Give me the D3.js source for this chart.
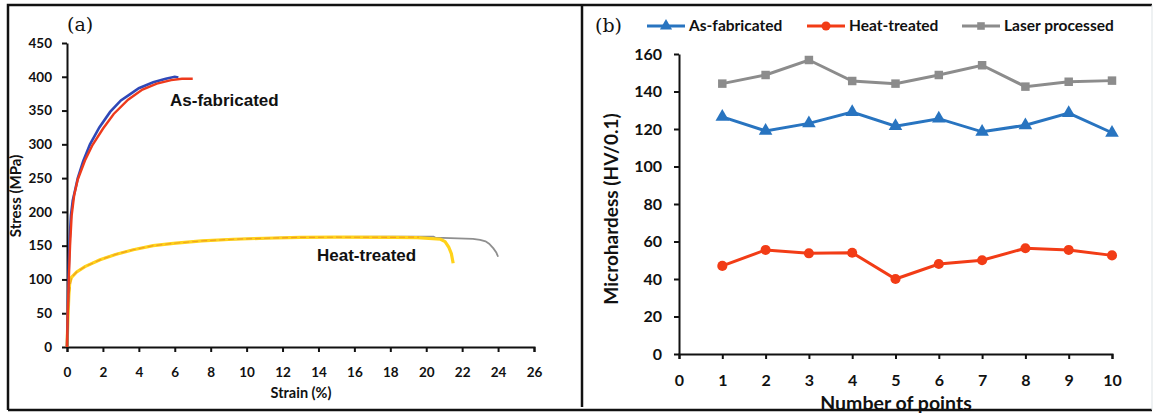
<!DOCTYPE html>
<html>
<head>
<meta charset="utf-8">
<script src="https://cdn.jsdelivr.net/npm/d3@7"></script>
<style>
  html, body { margin: 0; padding: 0; background: #fff; }
  svg { display: block; }
  .tick text { font-family: Lato, "Open Sans", sans-serif; font-weight: 700; fill: #111; }
  .domain, .tick line { stroke: #111; stroke-width: 2; }
</style>
</head>
<body>
<svg id="chart" width="1155" height="413"></svg>
<script>
// ---------- Panel (a): tensile stress–strain curves, [strain %, stress MPa] ----------
const strainTicks = [0, 2, 4, 6, 8, 10, 12, 14, 16, 18, 20, 22, 24, 26];
const stressTicks = [0, 50, 100, 150, 200, 250, 300, 350, 400, 450];

const asFabricatedA = [[0,0],[0.05,60],[0.1,120],[0.15,160],[0.22,195],[0.32,217],[0.45,232],[0.6,250],
  [0.9,275],[1.28,300],[1.8,325],[2.4,348],[3.0,365],[3.5,374],[4.0,383],[4.8,392],[5.5,397],[6.0,400],[6.2,399]];
const asFabricatedB = [[0,0],[0.04,50],[0.1,100],[0.17,150],[0.26,195],[0.4,225],[0.6,248],[1.0,276],
  [1.4,298],[2.0,323],[2.6,345],[3.4,366],[4.2,381],[5.0,390],[5.8,395],[6.4,397],[7.0,397]];
const heatTreatedA = [[0,0],[0.05,40],[0.1,75],[0.15,95],[0.25,103],[0.54,111],[1.0,119],[1.84,129],
  [2.7,137],[3.69,144],[4.8,150],[5.92,153.5],[7.5,157],[9.26,159.5],[11,161],[12.97,162.3],[15,162.5],
  [18.2,162.3],[19.5,162],[20.8,159.5],[21.05,156],[21.25,148],[21.4,138],[21.5,124]];
const heatTreatedB = [[0,0],[0.05,40],[0.1,75],[0.15,95],[0.25,103],[0.54,111],[1.0,119],[1.84,129],
  [2.7,137],[3.69,144],[4.8,150],[5.92,153.5],[7.5,157],[9.26,159.5],[11,161],[12.97,162.5],[15,163],
  [18.2,163.5],[20.4,163.5],[20.5,162],[22.6,160],[23.0,158.5],[23.3,156.5],[23.5,153],[23.74,146],
  [23.9,140],[24.0,133.6]];
const heatTreatedTrace = [[0,0],[0.1,75],[0.25,103],[0.54,111],[1.0,119],[1.84,129],[2.7,137],[3.69,144],
  [4.8,150],[5.92,153.5],[7.5,157],[9.26,159.5],[11,161],[12.97,162.3],[15,162.5],[18.2,162.4],[19.6,162.6]];

// ---------- Panel (b): microhardness at ten points ----------
const pointTicks = [0, 1, 2, 3, 4, 5, 6, 7, 8, 9, 10];
const hardnessTicks = [0, 20, 40, 60, 80, 100, 120, 140, 160];
const pointNumbers = [1, 2, 3, 4, 5, 6, 7, 8, 9, 10];
const hvAsFabricated = [126.5, 119, 123, 129, 121.5, 125.5, 118.5, 122, 128.5, 118];
const hvHeatTreated = [47, 55.5, 53.7, 54, 40, 48, 50, 56.4, 55.5, 52.6];
const hvLaserProcessed = [144.2, 148.8, 156.8, 145.6, 144.2, 148.8, 154, 142.6, 145.2, 145.8];
const seriesNames = ["As-fabricated", "Heat-treated", "Laser processed"];

const svg = d3.select("#chart");

// ---------- outer frames ----------
svg.append("path")
  .attr("d", "M8,410 V5 H1152")
  .attr("fill", "none").attr("stroke", "#111").attr("stroke-width", 2.5);
svg.append("line").attr("x1", 8).attr("x2", 1152).attr("y1", 410).attr("y2", 410)
  .attr("stroke", "#111").attr("stroke-width", 2.5);
svg.append("line").attr("x1", 582).attr("x2", 582).attr("y1", 5).attr("y2", 407)
  .attr("stroke", "#111").attr("stroke-width", 2.5);
svg.append("line").attr("x1", 1152).attr("x2", 1152).attr("y1", 5).attr("y2", 410)
  .attr("stroke", "#dde3e6").attr("stroke-width", 1);

// ================= Panel (a) =================
const xA = d3.scaleLinear().domain([0, 26]).range([67, 534]);
const yA = d3.scaleLinear().domain([0, 450]).range([347, 43]);

const gA = svg.append("g");
gA.append("g").attr("transform", `translate(0,${yA(0)})`)
  .call(d3.axisBottom(xA).tickValues(strainTicks).tickSize(5).tickPadding(15).tickSizeOuter(5))
  .call(g => g.selectAll(".tick text").style("font-size", "13.5px"));
gA.append("g").attr("transform", `translate(${xA(0)},0)`)
  .call(d3.axisLeft(yA).tickValues(stressTicks).tickSize(5).tickPadding(10).tickSizeOuter(0))
  .call(g => g.selectAll(".tick text").style("font-size", "13.5px"));

const lineA = d3.line().x(d => xA(d[0])).y(d => yA(d[1]));

gA.append("path").datum(heatTreatedB).attr("d", lineA)
  .attr("fill", "none").attr("stroke", "#8f8f8f").attr("stroke-width", 1.8);
gA.append("path").datum(heatTreatedA).attr("d", lineA)
  .attr("fill", "none").attr("stroke", "#ffd21a").attr("stroke-width", 3.2);
gA.append("path").datum(heatTreatedTrace).attr("d", lineA)
  .attr("fill", "none").attr("stroke", "#f0a020").attr("stroke-width", 1.2)
  .attr("stroke-dasharray", "6,3");
gA.append("path").datum(asFabricatedA).attr("d", lineA)
  .attr("fill", "none").attr("stroke", "#2f48b8").attr("stroke-width", 2.6);
gA.append("path").datum(asFabricatedB).attr("d", lineA)
  .attr("fill", "none").attr("stroke", "#ee3a1c").attr("stroke-width", 2.4);

gA.append("text").attr("x", 170).attr("y", 106)
  .attr("font-family", "Liberation Sans, Arial, sans-serif").attr("font-weight", 700)
  .attr("font-size", 17).attr("fill", "#111").text("As-fabricated");
gA.append("text").attr("x", 317).attr("y", 261)
  .attr("font-family", "Liberation Sans, Arial, sans-serif").attr("font-weight", 700)
  .attr("font-size", 17).attr("fill", "#111").text("Heat-treated");
gA.append("text").attr("x", 301).attr("y", 398).attr("text-anchor", "middle")
  .attr("font-family", "Lato, sans-serif").attr("font-weight", 700)
  .attr("font-size", 14.5).attr("fill", "#111").text("Strain (%)");
gA.append("text").attr("transform", "translate(21,196) rotate(-90)").attr("text-anchor", "middle")
  .attr("font-family", "Lato, sans-serif").attr("font-weight", 700)
  .attr("font-size", 15).attr("fill", "#111").text("Stress (MPa)");
gA.append("text").attr("x", 67).attr("y", 31)
  .attr("font-family", "DejaVu Serif, Liberation Serif, serif")
  .attr("font-size", 19).attr("fill", "#111").text("(a)");

// ================= Panel (b) =================
const xB = d3.scaleLinear().domain([0, 10]).range([679, 1112]);
const yB = d3.scaleLinear().domain([0, 160]).range([354, 54]);

const gB = svg.append("g");
gB.append("g").attr("transform", `translate(0,${yB(0)})`)
  .call(d3.axisBottom(xB).tickValues(pointTicks).tickSize(5).tickPadding(16).tickSizeOuter(5))
  .call(g => g.selectAll(".tick text").style("font-size", "16px"));
gB.append("g").attr("transform", `translate(${xB(0)},0)`)
  .call(d3.axisLeft(yB).tickValues(hardnessTicks).tickSize(5).tickPadding(12).tickSizeOuter(0))
  .call(g => g.selectAll(".tick text").style("font-size", "16px"));

const colors = { "As-fabricated": "#2874c0", "Heat-treated": "#f23c16", "Laser processed": "#8c8c8c" };
const seriesData = [
  { name: seriesNames[0], values: hvAsFabricated, marker: d3.symbolTriangle, size: 80 },
  { name: seriesNames[1], values: hvHeatTreated, marker: d3.symbolCircle, size: 80 },
  { name: seriesNames[2], values: hvLaserProcessed, marker: d3.symbolSquare, size: 72 }
];
const lineB = d3.line().x((d, i) => xB(pointNumbers[i])).y(d => yB(d));

seriesData.forEach(s => {
  gB.append("path").datum(s.values).attr("d", lineB)
    .attr("fill", "none").attr("stroke", colors[s.name]).attr("stroke-width", 3);
  gB.selectAll(null).data(s.values).enter().append("path")
    .attr("transform", (d, i) => `translate(${xB(pointNumbers[i])},${yB(d)})`)
    .attr("d", d3.symbol(s.marker, s.size))
    .attr("fill", colors[s.name]);
});

// legend
const legendX = [647, 807, 962];
const legend = gB.selectAll(".legend").data(seriesData).enter().append("g")
  .attr("transform", (d, i) => `translate(${legendX[i]},26)`);
legend.append("line").attr("x1", 0).attr("x2", 38)
  .attr("stroke", d => colors[d.name]).attr("stroke-width", 3);
legend.append("path").attr("transform", "translate(19,0)")
  .attr("d", d => d3.symbol(d.marker, d.size * 0.8)()).attr("fill", d => colors[d.name]);
legend.append("text").attr("x", 42).attr("y", 5)
  .attr("font-family", "Lato, sans-serif").attr("font-weight", 700)
  .attr("font-size", 15.5).attr("fill", "#111").text(d => d.name);

gB.append("text").attr("x", 595).attr("y", 32)
  .attr("font-family", "DejaVu Serif, Liberation Serif, serif")
  .attr("font-size", 19).attr("fill", "#111").text("(b)");
gB.append("text").attr("x", 896).attr("y", 410).attr("text-anchor", "middle")
  .attr("font-family", "Lato, sans-serif").attr("font-weight", 700)
  .attr("font-size", 19.5).attr("fill", "#111").text("Number of points");
gB.append("text").attr("transform", "translate(618,209) rotate(-90)").attr("text-anchor", "middle")
  .attr("font-family", "Lato, sans-serif").attr("font-weight", 700)
  .attr("font-size", 19).attr("fill", "#111").text("Microhardess (HV/0.1)");
</script>
</body>
</html>
